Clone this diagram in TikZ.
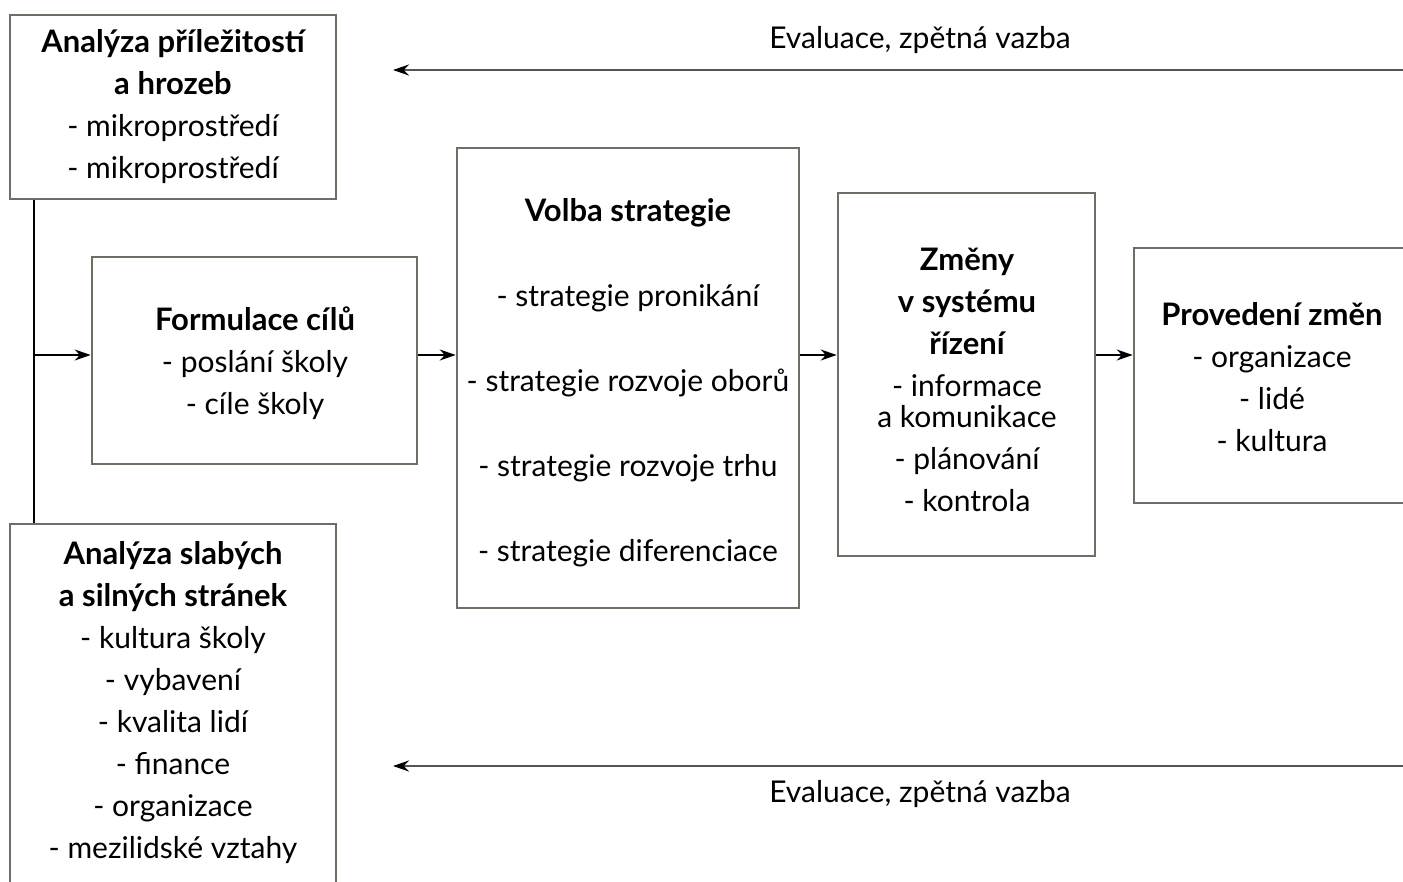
\documentclass[tikz,border=0pt]{standalone}
\usepackage{fontspec}
\setmainfont{Lato}
\usetikzlibrary{arrows.meta}
\definecolor{boxline}{RGB}{110,110,100}
\definecolor{fbline}{RGB}{85,85,85}
% bold heading lines inside the stage boxes
\newcommand{\hdline}[1]{{\fontsize{31}{42}\selectfont\bfseries #1}}
\begin{document}
\begin{tikzpicture}[x=1pt,y=-1pt,
  stagebox/.style={draw=boxline,line width=2.6pt,fill=none,inner sep=0pt},
  boxtext/.style={align=center,inner sep=0pt,font=\fontsize{30}{42}\selectfont},
  flow/.style={draw=black,line width=2pt,-{Stealth[length=16pt,width=11pt]}},
  trunkline/.style={draw=black,line width=2pt},
  feedback/.style={draw=fbline,line width=2pt,-{Stealth[length=16pt,width=11pt,color=black]}},
  fblabel/.style={inner sep=0pt,font=\fontsize{30}{36}\selectfont}]
\useasboundingbox (0,0) rectangle (1403,881);
\clip (0,0) rectangle (1403,881);

% stage boxes
\node[stagebox,minimum width=326pt,minimum height=184pt] (boxA) at (173,107) {};
\node[stagebox,minimum width=325pt,minimum height=207pt] (form) at (254.5,360.5) {};
\node[stagebox,minimum width=342pt,minimum height=460pt] (volba) at (628,378) {};
\node[stagebox,minimum width=257pt,minimum height=363pt] (zmeny) at (966.5,374.5) {};
\node[stagebox,minimum width=286pt,minimum height=255pt] (proved) at (1277,375.5) {};
\node[stagebox,minimum width=326pt,minimum height=376pt] (boxB) at (173,712) {};

% box contents
\node[boxtext] (tA) at (173,106.5) {\hdline{Analýza příležitostí}\\\hdline{a hrozeb}\\- mikroprostředí\\- mikroprostředí};
\node[boxtext] (tF) at (255,363.5) {\hdline{Formulace cílů}\\- poslání školy\\- cíle školy};
\node[boxtext] (tV) at (628,382.5) {\hdline{Volba strategie}\\[43pt]- strategie pronikání\\[43pt]- strategie rozvoje oborů\\[43pt]- strategie rozvoje trhu\\[43pt]- strategie diferenciace};
\node[boxtext] (tZ) at (967,379.5) {\hdline{Změny}\\\hdline{v systému}\\\hdline{řízení}\\- informace\\[-11pt]a komunikace\\- plánování\\- kontrola};
\node[boxtext] (tP) at (1272,377) {\hdline{Provedení změn}\\- organizace\\- lidé\\- kultura};
\node[boxtext] (tB) at (173,702.5) {\hdline{Analýza slabých}\\\hdline{a silných stránek}\\- kultura školy\\- vybavení\\- kvalita lidí\\- finance\\- organizace\\- mezilidské vztahy};

% main flow
\coordinate (trunk) at (34,355);
\draw[trunkline] (boxA.south -| trunk) -- (boxB.north -| trunk);
\draw[flow] (trunk) -- (trunk -| form.west);
\draw[flow] (form.east |- trunk) -- (volba.west |- trunk);
\draw[flow] (volba.east |- trunk) -- (zmeny.west |- trunk);
\draw[flow] (zmeny.east |- trunk) -- (proved.west |- trunk);

% feedback loops
\coordinate (fbTopR) at (1403,70);
\coordinate (fbTopL) at (393,70);
\coordinate (fbBotR) at (1403,766);
\coordinate (fbBotL) at (393,766);
\draw[feedback] (fbTopR) -- (fbTopL);
\draw[feedback] (fbBotR) -- (fbBotL);
\node[fblabel] (lblTop) at (920,40) {Evaluace, zpětná vazba};
\node[fblabel] (lblBot) at (920,794) {Evaluace, zpětná vazba};
\end{tikzpicture}
\end{document}
